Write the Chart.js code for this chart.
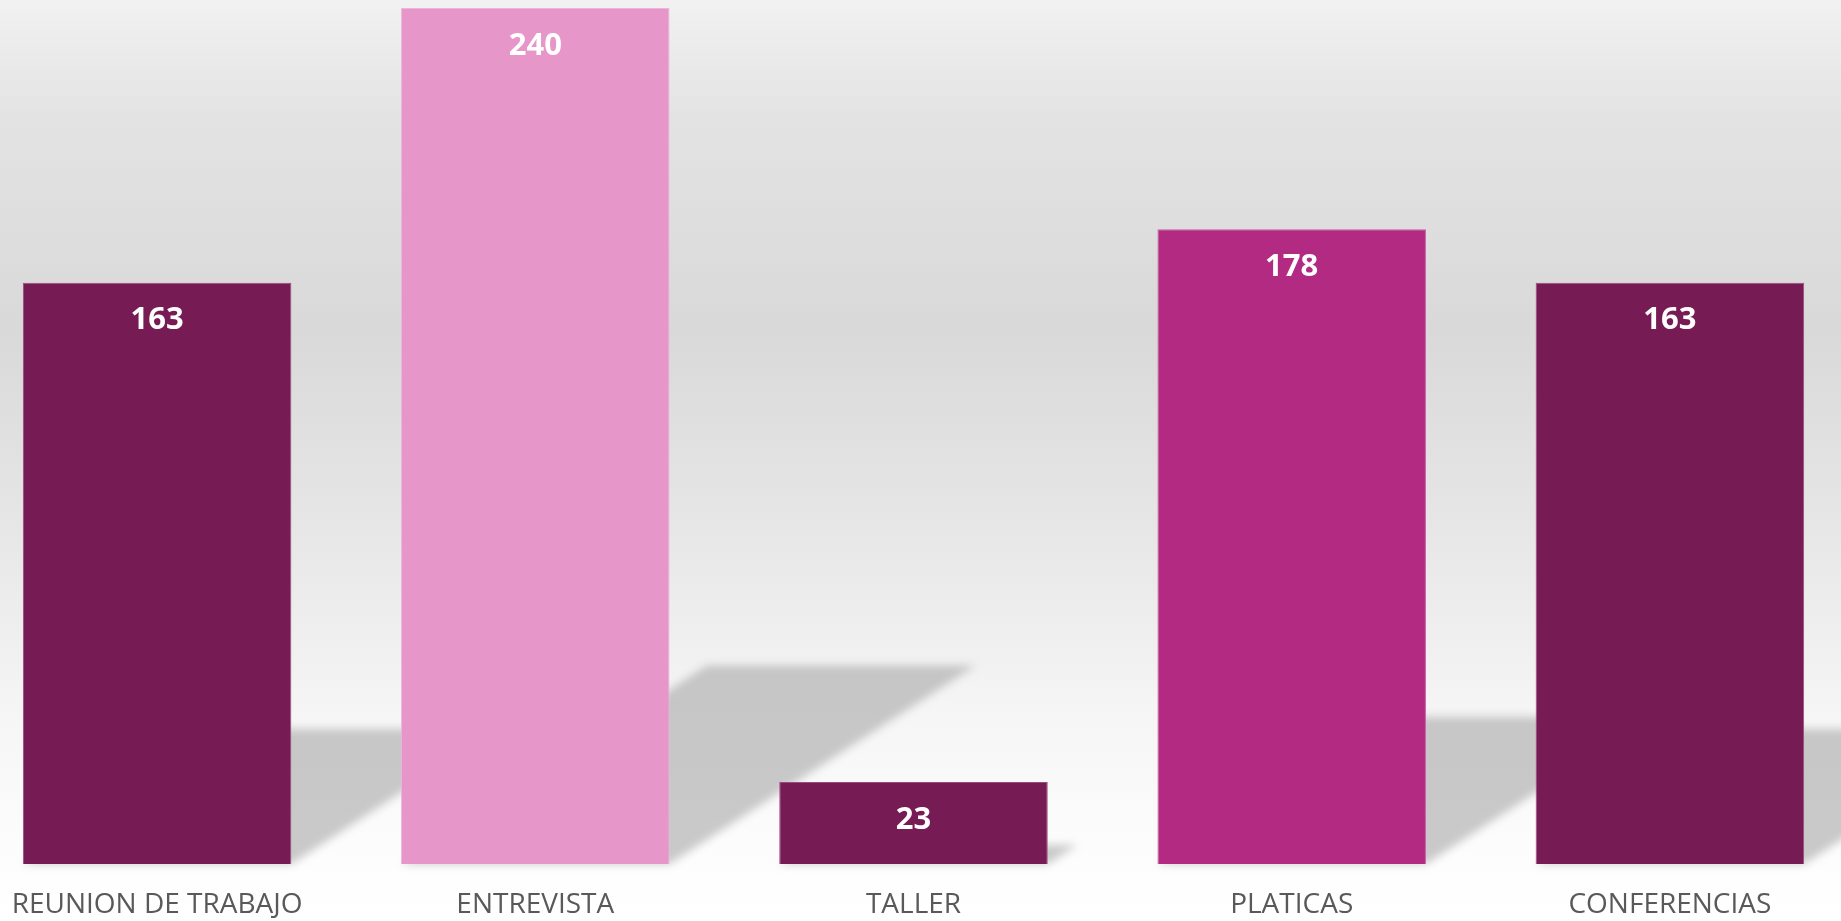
<!DOCTYPE html>
<html>
<head>
<meta charset="utf-8">
<script src="https://cdn.jsdelivr.net/npm/chart.js@4.4.1/dist/chart.umd.min.js"></script>
<style>
  html, body { margin: 0; padding: 0; width: 1841px; height: 921px; overflow: hidden; }
  body { background: linear-gradient(to bottom, #f1f1f1 0px, #e3e3e3 120px, #d9d9d9 330px, #e6e6e6 520px, #f6f6f6 720px, #fdfdfd 860px, #ffffff 921px); }
  #wrap { position: absolute; left: -32px; top: 0; width: 1891px; height: 921px; }
</style>
</head>
<body>
<div id="wrap"><canvas id="c"></canvas></div>
<script>
const categories = ["REUNION DE TRABAJO", "ENTREVISTA", "TALLER", "PLATICAS", "CONFERENCIAS"];
const values = [163, 240, 23, 178, 163];
const barColors = ["#761B54", "#E696C8", "#761B54", "#B32A82", "#761B54"];
const borderColors = ["#9a4a7c", "#eeb4d8", "#9a4a7c", "#c65fa0", "#9a4a7c"];

const shadowPlugin = {
  id: 'barShadows',
  beforeDatasetsDraw(chart) {
    const ctx = chart.ctx;
    const meta = chart.getDatasetMeta(0);
    ctx.save();
    ctx.filter = 'blur(4px)';
    ctx.fillStyle = 'rgba(170,170,170,0.62)';
    meta.data.forEach(bar => {
      const p = bar.getProps(['x', 'y', 'base', 'width'], true);
      const left = p.x - p.width / 2, right = p.x + p.width / 2;
      const h = (p.base - p.y) * 0.232;
      const shift = h * 1.54;
      ctx.beginPath();
      ctx.moveTo(left, p.base);
      ctx.lineTo(right, p.base);
      ctx.lineTo(right + shift, p.base - h);
      ctx.lineTo(left + shift, p.base - h);
      ctx.closePath();
      ctx.fill();
    });
    ctx.restore();
  }
};

const labelPlugin = {
  id: 'valueLabels',
  afterDatasetsDraw(chart) {
    const ctx = chart.ctx;
    const meta = chart.getDatasetMeta(0);
    ctx.save();
    ctx.fillStyle = '#ffffff';
    ctx.font = 'bold 31px "Open Sans", sans-serif';
    ctx.textAlign = 'center';
    ctx.textBaseline = 'middle';
    meta.data.forEach((bar, i) => {
      const p = bar.getProps(['x', 'y'], true);
      ctx.fillText(String(values[i]), p.x, p.y + 38);
    });
    ctx.restore();
  }
};

new Chart(document.getElementById('c'), {
  type: 'bar',
  data: {
    labels: categories,
    datasets: [{
      data: values,
      backgroundColor: barColors,
      borderColor: borderColors,
      borderWidth: 1,
      categoryPercentage: 1.0,
      barPercentage: 0.71
    }]
  },
  options: {
    responsive: true,
    maintainAspectRatio: false,
    devicePixelRatio: 1,
    animation: false,
    layout: { padding: { top: 8, left: 0, right: 0, bottom: 0 } },
    plugins: { legend: { display: false }, tooltip: { enabled: false } },
    scales: {
      x: {
        grid: { display: false },
        border: { display: false },
        afterFit(scale) { scale.height = 57; },
        ticks: {
          color: '#595959',
          font: { family: '"Open Sans", sans-serif', size: 28 },
          padding: 16,
          maxRotation: 0,
          autoSkip: false
        }
      },
      y: {
        display: false,
        min: 0,
        max: 240
      }
    }
  },
  plugins: [shadowPlugin, labelPlugin]
});
</script>
</body>
</html>
